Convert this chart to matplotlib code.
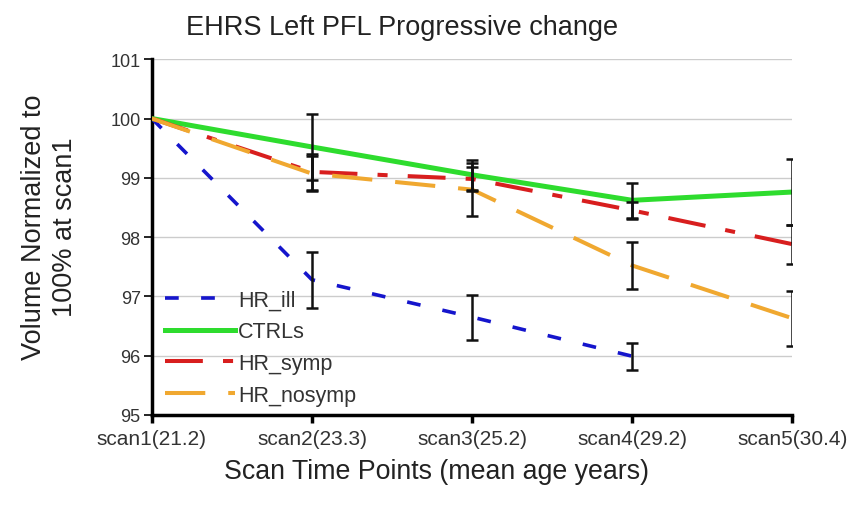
import matplotlib
matplotlib.use("Agg")
import matplotlib.pyplot as plt
import numpy as np

plt.rcParams['font.family'] = ['Liberation Sans', 'DejaVu Sans']

# data
scans = ["scan1(21.2)", "scan2(23.3)", "scan3(25.2)", "scan4(29.2)", "scan5(30.4)"]
hr_ill = [100.0, 97.28, 96.65, 95.99, np.nan]
ctrls = [100.0, 99.52, 99.05, 98.62, 98.76]
hr_symp = [100.0, 99.1, 98.98, 98.45, 97.88]
hr_nosymp = [100.0, 99.07, 98.8, 97.52, 96.63]

hr_ill_err = [0, 0.47, 0.38, 0.23, np.nan]
ctrls_err = [0, 0.55, 0.25, 0.3, 0.55]
hr_symp_err = [0, 0.3, 0.2, 0.15, 0.33]
hr_nosymp_err = [0, 0.3, 0.45, 0.4, 0.46]

x = np.arange(len(scans))

fig = plt.figure(figsize=(8.53, 5.06), dpi=100)
ax = fig.add_axes([0.178, 0.178, 0.751, 0.703])

ax.plot(x, hr_ill, color='#1515cc', lw=2.6, dashes=(3.8, 6.2), label='HR_ill', zorder=3)
ax.plot(x, ctrls, color='#2edc2e', lw=3.6, label='CTRLs', zorder=3)
ax.plot(x, hr_symp, color='#d81e1e', lw=2.9, dashes=(9.4, 5, 2.5, 5), label='HR_symp', zorder=3)
ax.plot(x, hr_nosymp, color='#f0a830', lw=2.9, dashes=(10, 5.7), label='HR_nosymp', zorder=3)

for vals, err in [(hr_ill, hr_ill_err), (ctrls, ctrls_err),
                  (hr_symp, hr_symp_err), (hr_nosymp, hr_nosymp_err)]:
    ax.errorbar(x[1:], vals[1:], yerr=err[1:], fmt='none', ecolor='#111111',
                elinewidth=1.8, capsize=4.5, capthick=1.8, zorder=4)

ax.set_xlim(0, 4)
ax.set_ylim(95, 101)
ax.set_yticks(np.arange(95, 102, 1))
ax.set_xticks(x)
ax.set_xticklabels(scans)
ax.yaxis.grid(True, color='#cccccc', lw=1)
ax.set_axisbelow(True)

for s in ['top', 'right']:
    ax.spines[s].set_visible(False)
for s in ['left', 'bottom']:
    ax.spines[s].set_linewidth(2.5)
    ax.spines[s].set_color('black')
ax.tick_params(axis='x', length=6, width=2.5, labelsize=15, pad=4, colors='black', labelcolor='#333333')
ax.tick_params(axis='y', length=6, width=1.2, labelsize=13, pad=2, labelcolor='#333333')

ax.set_title("EHRS Left PFL Progressive change", fontsize=19.5, x=0.39, pad=18, color='#222222')
ax.set_xlabel("Scan Time Points (mean age years)", fontsize=19.3, color='#222222')
ax.xaxis.set_label_coords(0.445, -0.12)
ax.set_ylabel("Volume Normalized to\n100% at scan1", fontsize=19.5, color='#222222',
              linespacing=1.25)
ax.yaxis.set_label_coords(-0.115, 0.53)

leg = ax.legend(loc='lower left', bbox_to_anchor=(0.0, -0.01), frameon=False, fontsize=15.5,
                handlelength=3.25, handletextpad=0.15, labelspacing=0.5, borderaxespad=0.2)
for t in leg.get_texts():
    t.set_color('#333333')

fig.savefig("out.png", dpi=100)
